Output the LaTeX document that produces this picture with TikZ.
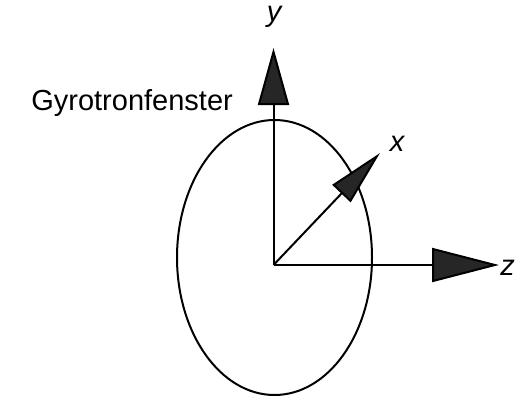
\documentclass[tikz,border=0pt]{standalone}
\usepackage{fontspec}
\setmainfont{Liberation Sans}
\usetikzlibrary{arrows.meta,shapes.geometric}
\begin{document}
\begin{tikzpicture}[x=1pt,y=-1pt,
  axis/.style={line width=2pt,draw=black},
  lbl/.style={font=\fontsize{29}{32}\selectfont\itshape,inner sep=0pt}]
\useasboundingbox (0,0) rectangle (516,399);
% ellipse
\node[draw=black,line width=2pt,ellipse,minimum width=195pt,minimum height=275pt,inner sep=0pt] (win) at (274.5,257.5) {};
\coordinate (O) at (273.5,265);
\coordinate (ytip) at (273.5,48);
\coordinate (xtip) at (380,153);
\coordinate (ztip) at (499,265);
\draw[axis,-{Triangle[length=57pt,width=31pt,fill=black!85]}] (O) -- (ytip);
\draw[axis,-{Triangle[length=56pt,width=25pt,fill=black!85]}] (O) -- (xtip);
\draw[axis,-{Triangle[length=67pt,width=34pt,fill=black!85]}] (O) -- (ztip);
\node[lbl] (ylab) at (274,17) {y};
\node[lbl] (xlab) at (397,144) {x};
\node[lbl,anchor=east] (zlab) at (515,268) {z};
\node[font=\fontsize{29}{32}\selectfont,inner sep=0pt,anchor=base east] (gyro) at (233,110) {Gyrotronfenster};
\end{tikzpicture}
\end{document}
